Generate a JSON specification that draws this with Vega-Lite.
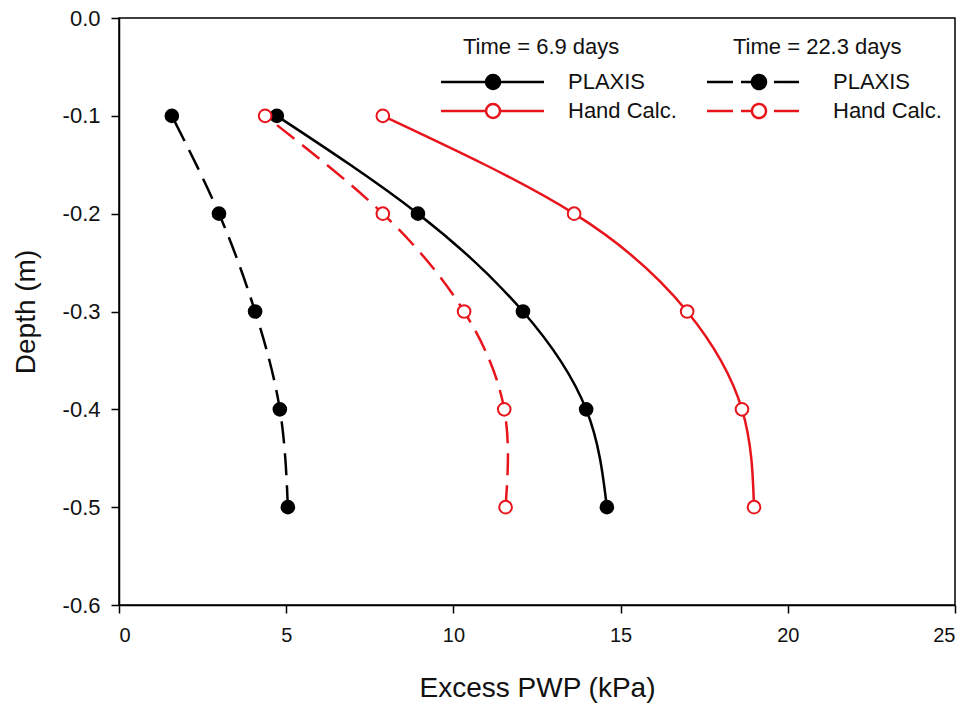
{
  "$schema": "https://vega.github.io/schema/vega-lite/v6.json",
  "width": 836,
  "height": 587,
  "autosize": {"type": "none"},
  "padding": {"left": 119, "top": 18, "right": 16, "bottom": 104},
  "background": "white",
  "config": {
    "font": "Liberation Sans",
    "view": {"stroke": "black", "strokeWidth": 1.5},
    "axis": {
      "grid": false,
      "domainColor": "black",
      "domainWidth": 1.5,
      "tickColor": "black",
      "tickWidth": 1.5,
      "tickSize": 8,
      "labelFont": "Liberation Sans",
      "labelFontSize": 20,
      "labelColor": "#111",
      "titleFont": "Liberation Sans",
      "titleFontSize": 28,
      "titleFontWeight": "normal",
      "titleColor": "#111"
    },
    "legend": {
      "titleFont": "Liberation Sans",
      "titleFontSize": 22,
      "titleFontWeight": "normal",
      "titleColor": "#111",
      "labelFont": "Liberation Sans",
      "labelFontSize": 22,
      "labelColor": "#111",
      "padding": 0,
      "symbolStrokeWidth": 2.5,
      "symbolOpacity": 1
    }
  },
  "data": {
    "values": [
      {"time": "6.9", "method": "PLAXIS", "depth": -0.1, "pwp": 4.72},
      {"time": "6.9", "method": "PLAXIS", "depth": -0.2, "pwp": 8.94},
      {"time": "6.9", "method": "PLAXIS", "depth": -0.3, "pwp": 12.08},
      {"time": "6.9", "method": "PLAXIS", "depth": -0.4, "pwp": 13.97},
      {"time": "6.9", "method": "PLAXIS", "depth": -0.5, "pwp": 14.59},
      {"time": "6.9", "method": "Hand Calc.", "depth": -0.1, "pwp": 7.89},
      {"time": "6.9", "method": "Hand Calc.", "depth": -0.2, "pwp": 13.61},
      {"time": "6.9", "method": "Hand Calc.", "depth": -0.3, "pwp": 16.99},
      {"time": "6.9", "method": "Hand Calc.", "depth": -0.4, "pwp": 18.63},
      {"time": "6.9", "method": "Hand Calc.", "depth": -0.5, "pwp": 18.99},
      {"time": "22.3", "method": "PLAXIS", "depth": -0.1, "pwp": 1.58},
      {"time": "22.3", "method": "PLAXIS", "depth": -0.2, "pwp": 2.99},
      {"time": "22.3", "method": "PLAXIS", "depth": -0.3, "pwp": 4.07},
      {"time": "22.3", "method": "PLAXIS", "depth": -0.4, "pwp": 4.81},
      {"time": "22.3", "method": "PLAXIS", "depth": -0.5, "pwp": 5.05},
      {"time": "22.3", "method": "Hand Calc.", "depth": -0.1, "pwp": 4.37},
      {"time": "22.3", "method": "Hand Calc.", "depth": -0.2, "pwp": 7.89},
      {"time": "22.3", "method": "Hand Calc.", "depth": -0.3, "pwp": 10.32},
      {"time": "22.3", "method": "Hand Calc.", "depth": -0.4, "pwp": 11.52},
      {"time": "22.3", "method": "Hand Calc.", "depth": -0.5, "pwp": 11.56}
    ]
  },
  "encoding": {
    "x": {
      "field": "pwp",
      "type": "quantitative",
      "scale": {"domain": [0, 25], "nice": false, "zero": false},
      "axis": {"values": [0, 5, 10, 15, 20, 25], "title": "Excess PWP (kPa)", "labelPadding": 12, "titlePadding": 29}
    },
    "y": {
      "field": "depth",
      "type": "quantitative",
      "scale": {"domain": [-0.6, 0], "nice": false, "zero": false},
      "axis": {
        "values": [0, -0.1, -0.2, -0.3, -0.4, -0.5, -0.6],
        "labelExpr": "datum.value === 0 ? '0.0' : '-' + format(-datum.value, '.1f')",
        "labelFontSize": 22,
        "title": "Depth (m)", "labelPadding": 11, "titlePadding": 22
      }
    }
  },
  "layer": [
    {
      "transform": [{"filter": "datum.time === '6.9'"}],
      "layer": [
        {
          "mark": {"type": "line", "interpolate": "natural", "strokeWidth": 2.5},
          "encoding": {
            "order": {"field": "depth", "type": "quantitative"},
            "stroke": {
              "field": "method", "type": "nominal",
              "scale": {"domain": ["PLAXIS", "Hand Calc."], "range": ["black", "#e8141c"]},
              "legend": {
                "title": "Time = 6.9 days", "orient": "none", "legendX": 344, "legendY": 19,
                "symbolType": "M-4.71 0L1.72 0M3.72 0L10 0M3.72 0C3.72 0.5523 3.2723 1 2.72 1C2.1677 1 1.72 0.5523 1.72 0C1.72 -0.5523 2.1677 -1 2.72 -1C3.2723 -1 3.72 -0.5523 3.72 0Z",
                "symbolSize": 196, "labelOffset": 83, "titlePadding": 12, "rowPadding": 5
              }
            }
          }
        },
        {
          "mark": {"type": "point", "filled": true, "size": 160, "strokeWidth": 2, "opacity": 1},
          "encoding": {
            "stroke": {
              "field": "method", "type": "nominal",
              "scale": {"domain": ["PLAXIS", "Hand Calc."], "range": ["black", "#e8141c"]}
            },
            "fill": {
              "field": "method", "type": "nominal",
              "scale": {"domain": ["PLAXIS", "Hand Calc."], "range": ["black", "white"]}
            }
          }
        }
      ]
    },
    {
      "transform": [{"filter": "datum.time === '22.3'"}],
      "layer": [
        {
          "mark": {"type": "line", "interpolate": "natural", "strokeWidth": 2.5, "strokeDash": [22, 10]},
          "encoding": {
            "order": {"field": "depth", "type": "quantitative"},
            "stroke": {
              "field": "method", "type": "nominal",
              "scale": {"domain": ["PLAXIS", "Hand Calc."], "range": ["black", "#e8141c"]},
              "legend": {
                "title": "Time = 22.3 days", "orient": "none", "legendX": 614, "legendY": 19,
                "symbolType": "M-5.29 0L-1.57 0M-0.43 0L1.14 0M4.28 0L7.86 0M3.14 0C3.14 0.5523 2.6923 1 2.14 1C1.5877 1 1.14 0.5523 1.14 0C1.14 -0.5523 1.5877 -1 2.14 -1C2.6923 -1 3.14 -0.5523 3.14 0Z",
                "symbolSize": 196, "labelOffset": 78, "titlePadding": 12, "rowPadding": 5,
                "encode": {"symbols": {"update": {"strokeDash": {"value": [1, 0]}}}}
              }
            }
          }
        },
        {
          "mark": {"type": "point", "filled": true, "size": 160, "strokeWidth": 2, "opacity": 1},
          "encoding": {
            "stroke": {
              "field": "method", "type": "nominal",
              "scale": {"domain": ["PLAXIS", "Hand Calc."], "range": ["black", "#e8141c"]}
            },
            "fill": {
              "field": "method", "type": "nominal",
              "scale": {"domain": ["PLAXIS", "Hand Calc."], "range": ["black", "white"]}
            }
          }
        }
      ]
    }
  ],
  "resolve": {"scale": {"stroke": "independent", "fill": "independent"}}
}
